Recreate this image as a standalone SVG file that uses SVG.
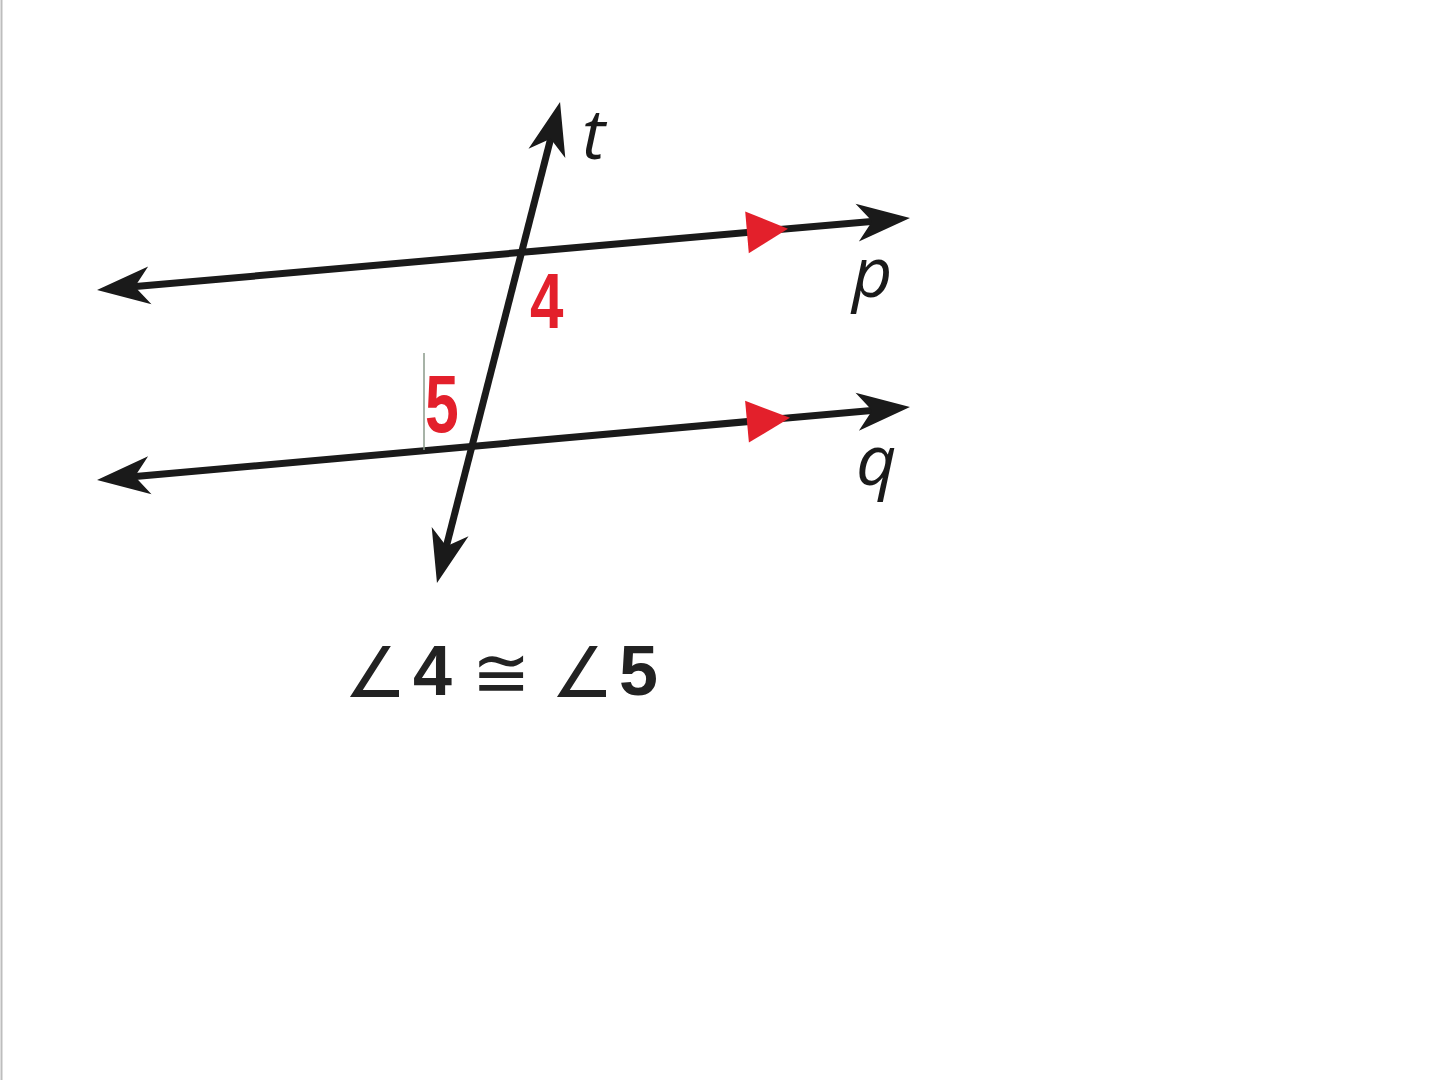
<svg xmlns="http://www.w3.org/2000/svg" width="1440" height="1080" viewBox="0 0 1440 1080">
<defs>
<style>
.ln{stroke:#1a1a1a;stroke-width:7;fill:none;marker-start:url(#ah);marker-end:url(#ah)}
.red{fill:#e3202b}
.lbl{font-family:"Open Sans","Liberation Sans",sans-serif;font-style:italic;font-size:70px;fill:#1a1a1a}
.num{font-family:"Liberation Sans",Arial,sans-serif;font-weight:bold;fill:#e3202b}
.eq{font-family:"DejaVu Sans","Liberation Sans",sans-serif;fill:#222}
.eqn{font-family:"Liberation Sans",Arial,sans-serif;font-weight:bold;fill:#222}
</style>
<marker id="ah" viewBox="-30 -22 64 44" markerWidth="64" markerHeight="44" refX="0" refY="0" markerUnits="userSpaceOnUse" orient="auto-start-reverse">
<path d="M30,0 L-23,-19 L-8,0 L-23,19 Z" fill="#1a1a1a"/>
</marker>
</defs>
<rect width="1440" height="1080" fill="#ffffff"/>
<line x1="1.5" y1="0" x2="1.5" y2="1080" stroke="#bdbdbd" stroke-width="2"/>
<g id="connectors">
<path id="line-p" class="ln" d="M126.9,287.35 L880.1,220.65"/>
<path id="line-q" class="ln" d="M126.9,477.3 L880.1,409.7"/>
<path id="line-t" class="ln" d="M552.6,131.1 L444.4,553.9"/>
<polygon class="red" points="788,228.8 748.8,253.3 745.2,211.5"/>
<polygon class="red" points="790,417.8 748.9,442.5 745.1,400.7"/>
<line x1="424" y1="353" x2="424" y2="450" stroke="#8a9a8a" stroke-width="1.5"/>
</g>
<g id="label-t"><text class="lbl" x="582" y="159">t</text></g>
<g id="label-p"><text class="lbl" x="852" y="297">p</text></g>
<g id="label-q"><text class="lbl" x="856" y="485">q</text></g>
<g id="angle-4"><text class="num" font-size="78" transform="translate(530,328) scale(0.77,1)">4</text></g>
<g id="angle-5"><text class="num" font-size="82" transform="translate(425,432) scale(0.74,1)">5</text></g>
<g id="equation">
<text class="eq" x="344" y="697" font-size="70">∠</text>
<text class="eqn" x="413" y="695" font-size="70">4</text>
<text class="eq" x="472" y="697" font-size="70">≅</text>
<text class="eq" x="551" y="697" font-size="70">∠</text>
<text class="eqn" x="619" y="695" font-size="70">5</text>
</g>
</svg>
